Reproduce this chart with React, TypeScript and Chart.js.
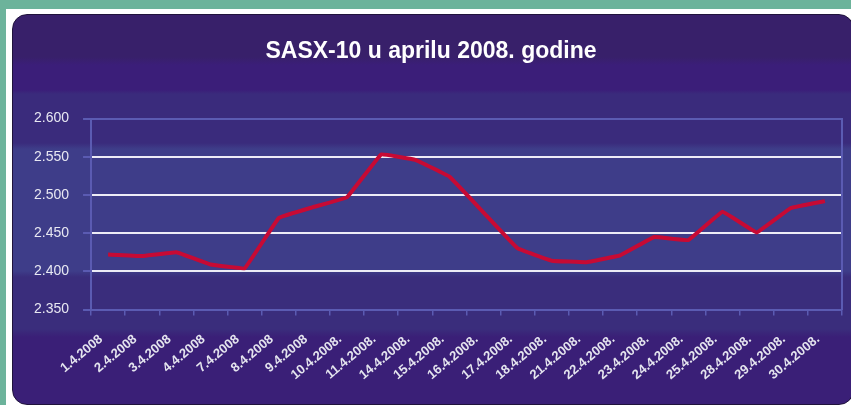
import React, { useEffect, useRef } from "react";
import { Chart, registerables } from "chart.js";

Chart.register(...registerables);

const chartTitle = "SASX-10 u aprilu 2008. godine";
const dates = [
  "1.4.2008", "2.4.2008", "3.4.2008", "4.4.2008", "7.4.2008", "8.4.2008", "9.4.2008",
  "10.4.2008.", "11.4.2008.", "14.4.2008.", "15.4.2008.", "16.4.2008.", "17.4.2008.",
  "18.4.2008.", "21.4.2008.", "22.4.2008.", "23.4.2008.", "24.4.2008.", "25.4.2008.",
  "28.4.2008.", "29.4.2008.", "30.4.2008.",
];
const sasx10 = [
  2422, 2420, 2425, 2409, 2404, 2470, 2484, 2497, 2553, 2546, 2524,
  2477, 2430, 2414, 2412, 2421, 2445, 2441, 2478, 2451, 2483, 2492,
];
const yMin = 2350;
const yMax = 2600;
const yStep = 50;

const FONT = "'Liberation Sans', Arial, sans-serif";
const LAV = "#5b5bb2";

export default function App() {
  const ref = useRef<HTMLCanvasElement>(null);

  useEffect(() => {
    const chart = new Chart(ref.current!, {
      type: "line",
      data: {
        labels: dates,
        datasets: [
          {
            data: sasx10,
            borderColor: "#c70a34",
            borderWidth: 4,
            pointRadius: 0,
            tension: 0.05,
            fill: false,
          },
        ],
      },
      options: {
        responsive: false,
        animation: false,
        layout: { padding: { left: 20, right: 9, top: 0, bottom: 6 } },
        plugins: {
          legend: { display: false },
          tooltip: { enabled: false },
          title: {
            display: true,
            text: chartTitle,
            color: "#ffffff",
            font: { family: FONT, size: 23, weight: "bold" },
            padding: { top: 38, bottom: 53 },
          },
        },
        scales: {
          x: {
            offset: true,
            afterFit: (scale: any) => {
              scale.paddingLeft = 0;
              scale.paddingRight = 0;
            },
            grid: {
              offset: true,
              drawOnChartArea: false,
              drawTicks: true,
              tickLength: 6,
              color: LAV,
              lineWidth: 1.5,
            },
            border: { color: LAV, width: 2 },
            ticks: {
              color: "#e4e4ee",
              font: { family: FONT, size: 13, weight: "bold" },
              minRotation: 40,
              maxRotation: 40,
              padding: 16,
              labelOffset: -7,
              autoSkip: false,
            },
          },
          y: {
            min: yMin,
            max: yMax,
            ticks: {
              stepSize: yStep,
              color: "#e8e8f2",
              font: { family: FONT, size: 14 },
              padding: 14,
              callback: (v: any) => (Number(v) / 1000).toFixed(3),
            },
            grid: {
              color: (ctx: any) =>
                ctx.tick && (ctx.tick.value === yMin || ctx.tick.value === yMax) ? LAV : "#ececf6",
              lineWidth: 2,
              tickColor: LAV,
              tickLength: 8,
            },
            border: { color: LAV, width: 2 },
          },
          y2: {
            position: "right",
            min: yMin,
            max: yMax,
            ticks: { display: false },
            grid: { drawOnChartArea: false, drawTicks: false },
            border: { color: LAV, width: 2 },
          },
        },
      },
    });
    return () => chart.destroy();
  }, []);

  return (
    <div
      style={{
        position: "fixed",
        left: 0,
        top: 0,
        width: 851,
        height: 405,
        background: "#6cb39b",
        overflow: "hidden",
      }}
    >
      <div
        style={{
          position: "absolute",
          left: 6,
          top: 9,
          right: 0,
          bottom: 0,
          background: "#ffffff",
        }}
      />
      <div
        style={{
          position: "absolute",
          left: 12,
          top: 14,
          width: 840,
          height: 389,
          borderRadius: 15,
          border: "1px solid #20133c",
          background:
            "linear-gradient(to bottom, #38206a 0px, #38206a 42px, #3b1e79 50px, #3b1e79 75px, #3a2b7c 79px, #3a2b7c 128px, #3e3d89 134px, #3e3d89 256px, #3a2d7c 262px, #3a2d7c 314px, #3a1f77 322px, #3a1f77 100%)",
        }}
      />
      <canvas
        ref={ref}
        width={851}
        height={405}
        style={{ position: "absolute", left: 0, top: 0, width: 851, height: 405 }}
      />
    </div>
  );
}
